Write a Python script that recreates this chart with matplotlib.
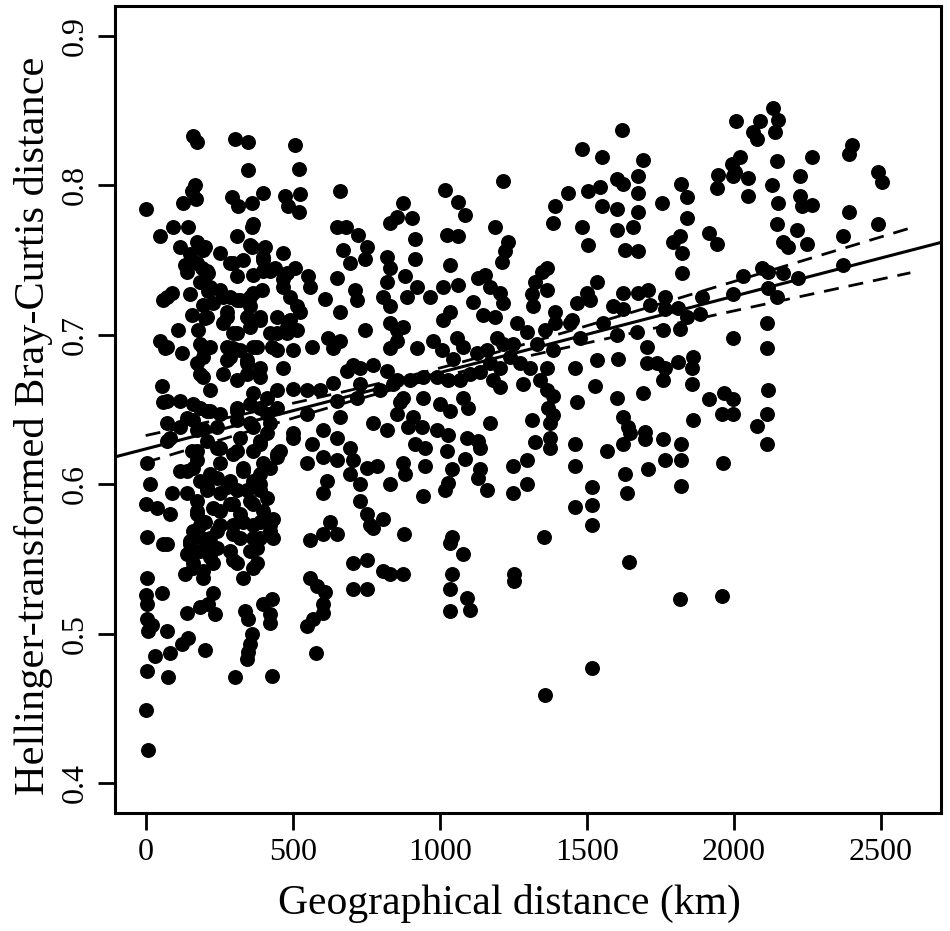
import numpy as np
import matplotlib
matplotlib.use("Agg")
from matplotlib import pyplot as plt

plt.rcParams["font.family"] = ["Liberation Serif", "DejaVu Serif"]

# geographical distance (km) and Hellinger-transformed Bray-Curtis distance
geo_km = [
    161, 175, 304, 348, 508, 348, 521, 168, 157, 171, 127, 1, 293, 314, 361, 399, 474, 525, 484, 521,
    661, 365, 361, 310, 93, 144, 49, 117, 174, 202, 151, 134, 140, 191, 212, 191, 253, 287, 331, 310,
    361, 406, 399, 365, 399, 467, 440, 467, 508, 552, 559, 651, 681, 722, 671, 752, 746, 695, 651, 831,
    855, 821, 831, 821, 807, 831, 59, 89, 151, 212, 195, 253, 287, 321, 365, 396, 355, 491, 514, 525,
    610, 661, 712, 718, 157, 202, 110, 178, 276, 263, 310, 344, 389, 446, 480, 514, 446, 620, 661, 746,
    49, 66, 123, 195, 219, 297, 365, 430, 566, 637, 831, 855,
    # lower left block
    55, 59, 117, 72, 140, 83, 174, 4, 15, 0, 38, 89, 83, 4, 59, 4, 174, 195, 219, 185,
    219, 209, 157, 174, 140, 185, 140, 174, 209, 174, 202, 161, 191, 151, 185, 161, 195, 219, 243, 243,
    253, 253, 243, 253, 243, 287, 344, 310, 389, 365, 310, 389, 355, 321, 389, 297, 365, 331, 399, 287,
    365, 310, 389, 287, 355, 321, 399, 297, 365, 321, 389, 287, 355, 310, 378, 331, 423, 433, 446, 457,
    412, 446, 412, 501, 549, 593, 637, 651, 661, 549, 501, 566, 603, 651, 695, 549, 603, 651, 705, 729,
    617, 603, 695, 752, 786, 729, 752, 763, 807, 773, 559, 603, 651, 627, 705, 752, 807, 773, 821, 831,
    865, 705, 729, 773, 729, 718, 685, 821, 855, 797,
    0, 4, 55, 4, 21, 8, 72, 32, 83, 4, 76, 1, 8, 134, 229, 212, 185, 140, 236, 144,
    123, 202, 338, 348, 399, 430, 423, 423, 361, 355, 348, 344, 304, 430, 559, 583, 610, 603, 603, 569,
    549, 580, 705, 752,
    # dense column, 100-500 km
    195, 174, 209, 185, 219, 355, 297, 399, 423, 480, 467, 355, 310, 263, 229, 209, 276, 297, 355, 389,
    491, 423, 480, 501, 446, 378, 321, 276, 185, 72, 195, 276, 344, 389, 467, 185, 263, 344, 72,
    72, 161, 209, 253, 310, 355, 412, 446, 117, 161, 195, 243, 310, 365, 423, 72, 174, 253, 310, 389,
    446, 501, 117, 161, 219, 331, 389, 423, 209, 276, 344, 389, 174, 229, 297, 365, 412, 185, 253, 331,
    389, 423, 151, 219, 297, 365, 433, 72, 140, 209, 378, 161, 229, 297, 365, 195,
    # middle block
    1484, 1552, 1692, 1216, 1018, 1062, 1086, 876, 906, 1436, 1504, 1545, 1603, 1623, 1675, 1675, 1757, 1392, 1552, 1603,
    1675, 1385, 1484, 1603, 1658, 1504, 1630, 1675, 916, 1025, 1062, 1188, 1232, 1222, 1212, 916, 1035, 882, 1365, 1348,
    1154, 1130, 1171, 1205, 1216, 1324, 1365, 1314, 1317, 1535, 1501, 1467, 1511, 1623, 1675, 1709, 1767, 1590, 1623, 1716,
    1760, 1011, 1062, 967, 923, 889, 1113, 1035, 1011, 1147, 1188, 1263, 1297, 1392, 1392, 1450, 1477, 1443, 1555, 1603,
    1671, 1705, 1739, 1760, 1705, 1607, 1535, 1460, 1528, 1603, 1692, 1467, 1365, 1385, 1331, 1358, 831, 876, 855, 923,
    977, 1008, 1059, 1079, 1045, 1127, 1161, 1195, 1216, 1250, 1171, 1205, 1239, 1273, 1307, 1341, 1365, 1385, 1283, 1205,
    1181, 1137, 1103, 1069, 1028, 991, 943, 899, 841, 876, 943, 1001, 1079, 1620,
    855, 910, 1035, 1097, 893, 940, 991, 1028, 916, 950, 1025, 1093, 1130, 1086, 1137, 1171, 876, 882, 950, 1042,
    1137, 1130, 1028, 1018, 943, 1161, 1250, 1297, 1250, 1297, 1314, 1324, 1375, 1375, 1375, 1385, 1368, 1460, 1460, 1569,
    1623, 1647, 1640, 1623, 1699, 1699, 1760, 1767, 1709, 1630, 1637, 1518, 1518, 1460, 1518, 1355, 1644, 1518, 1358, 879,
    876, 831, 1042, 1035, 1079, 1042, 1035, 1093, 1103, 1035, 1253, 1253,
    # right block
    2134, 2151, 2141, 2090, 2066, 2080, 2008, 2022, 1994, 2004, 1947, 1943, 1998, 2049, 2049, 2147, 2130, 2151, 2267, 2226,
    2226, 2233, 2267, 2403, 2392, 2491, 2505, 2392, 2491, 2372, 2372, 2147, 2215, 2249, 2168, 2185, 2219, 2168, 2097, 2117,
    2117, 2147, 2032, 1998, 1892, 1885, 2113, 2113, 1998, 1821, 1841, 1841, 1817, 1794, 1824, 1824, 1916, 1943, 1811, 1841,
    1767, 1817, 1862, 1811,
    1767, 1858, 1858, 1916, 1967, 1998, 1960, 1998, 1862, 2117, 2113, 2080, 2113, 1821, 1821, 1964, 1821, 1817, 1960,
]

bray = [
    0.833, 0.829, 0.831, 0.829, 0.827, 0.810, 0.811, 0.800, 0.796, 0.791, 0.788, 0.784, 0.792, 0.786, 0.788, 0.795, 0.793, 0.794, 0.786, 0.782,
    0.796, 0.774, 0.772, 0.766, 0.772, 0.772, 0.766, 0.759, 0.762, 0.759, 0.754, 0.747, 0.742, 0.745, 0.741, 0.735, 0.755, 0.748, 0.750, 0.739,
    0.759, 0.759, 0.752, 0.740, 0.743, 0.755, 0.745, 0.737, 0.745, 0.739, 0.732, 0.772, 0.772, 0.767, 0.757, 0.759, 0.751, 0.748, 0.738, 0.775,
    0.779, 0.752, 0.745, 0.735, 0.725, 0.719, 0.723, 0.728, 0.727, 0.729, 0.720, 0.730, 0.725, 0.723, 0.728, 0.730, 0.719, 0.725, 0.719, 0.715,
    0.724, 0.715, 0.730, 0.723, 0.713, 0.711, 0.703, 0.703, 0.715, 0.708, 0.701, 0.712, 0.710, 0.712, 0.705, 0.703, 0.701, 0.698, 0.696, 0.703,
    0.696, 0.691, 0.688, 0.691, 0.692, 0.691, 0.692, 0.692, 0.692, 0.691, 0.691, 0.703,
    0.666, 0.655, 0.656, 0.641, 0.644, 0.631, 0.636, 0.614, 0.600, 0.587, 0.584, 0.594, 0.580, 0.565, 0.560, 0.537, 0.681, 0.672, 0.663, 0.651,
    0.649, 0.629, 0.622, 0.616, 0.609, 0.602, 0.594, 0.589, 0.596, 0.580, 0.575, 0.569, 0.564, 0.560, 0.555, 0.547, 0.542, 0.551, 0.557, 0.569,
    0.582, 0.594, 0.604, 0.614, 0.624, 0.685, 0.681, 0.670, 0.672, 0.661, 0.649, 0.651, 0.641, 0.631, 0.629, 0.620, 0.622, 0.611, 0.614, 0.602,
    0.602, 0.596, 0.596, 0.587, 0.589, 0.580, 0.582, 0.573, 0.573, 0.564, 0.564, 0.555, 0.555, 0.547, 0.547, 0.537, 0.569, 0.577, 0.618, 0.622,
    0.634, 0.663, 0.658, 0.664, 0.663, 0.663, 0.668, 0.656, 0.645, 0.647, 0.631, 0.627, 0.636, 0.631, 0.624, 0.614, 0.618, 0.616, 0.616, 0.600,
    0.602, 0.594, 0.607, 0.611, 0.612, 0.589, 0.580, 0.573, 0.577, 0.571, 0.563, 0.567, 0.567, 0.575, 0.547, 0.549, 0.542, 0.641, 0.636, 0.600,
    0.655, 0.680, 0.678, 0.680, 0.667, 0.658, 0.676, 0.676, 0.670, 0.663,
    0.526, 0.520, 0.527, 0.510, 0.506, 0.502, 0.502, 0.485, 0.487, 0.475, 0.471, 0.449, 0.422, 0.540, 0.527, 0.520, 0.518, 0.514, 0.513, 0.497,
    0.493, 0.489, 0.515, 0.510, 0.520, 0.523, 0.513, 0.507, 0.500, 0.493, 0.488, 0.483, 0.471, 0.472, 0.537, 0.532, 0.528, 0.520, 0.514, 0.510,
    0.505, 0.487, 0.530, 0.530,
    0.757, 0.748, 0.743, 0.735, 0.732, 0.760, 0.748, 0.750, 0.743, 0.741, 0.732, 0.725, 0.723, 0.725, 0.721, 0.712, 0.712, 0.701, 0.705, 0.712,
    0.710, 0.701, 0.701, 0.690, 0.690, 0.692, 0.690, 0.692, 0.694, 0.692, 0.685, 0.683, 0.683, 0.678, 0.678, 0.674, 0.674, 0.674, 0.725,
    0.656, 0.654, 0.649, 0.647, 0.651, 0.654, 0.647, 0.651, 0.638, 0.643, 0.637, 0.638, 0.643, 0.638, 0.641, 0.629, 0.622, 0.624, 0.622, 0.627,
    0.620, 0.634, 0.609, 0.611, 0.607, 0.609, 0.607, 0.611, 0.598, 0.598, 0.596, 0.600, 0.582, 0.584, 0.587, 0.587, 0.591, 0.573, 0.573, 0.575,
    0.575, 0.573, 0.562, 0.564, 0.567, 0.564, 0.564, 0.560, 0.553, 0.555, 0.557, 0.544, 0.547, 0.549, 0.544, 0.537,
    0.824, 0.819, 0.817, 0.803, 0.797, 0.789, 0.780, 0.788, 0.778, 0.795, 0.796, 0.799, 0.804, 0.801, 0.806, 0.795, 0.788, 0.786, 0.786, 0.784,
    0.782, 0.775, 0.772, 0.770, 0.772, 0.760, 0.757, 0.756, 0.764, 0.767, 0.766, 0.772, 0.762, 0.756, 0.749, 0.751, 0.747, 0.739, 0.745, 0.742,
    0.740, 0.738, 0.732, 0.728, 0.721, 0.735, 0.730, 0.727, 0.719, 0.735, 0.728, 0.721, 0.723, 0.728, 0.728, 0.730, 0.725, 0.719, 0.717, 0.720,
    0.703, 0.732, 0.733, 0.725, 0.732, 0.725, 0.722, 0.715, 0.710, 0.713, 0.712, 0.708, 0.702, 0.715, 0.708, 0.710, 0.698, 0.708, 0.708, 0.700,
    0.702, 0.692, 0.681, 0.670, 0.681, 0.684, 0.683, 0.678, 0.666, 0.658, 0.661, 0.655, 0.678, 0.690, 0.694, 0.703, 0.708, 0.705, 0.696, 0.691,
    0.696, 0.690, 0.698, 0.692, 0.684, 0.688, 0.690, 0.698, 0.694, 0.694, 0.681, 0.678, 0.685, 0.681, 0.678, 0.670, 0.663, 0.659, 0.667, 0.665,
    0.670, 0.675, 0.674, 0.670, 0.670, 0.672, 0.672, 0.670, 0.667, 0.658, 0.658, 0.654, 0.658, 0.837,
    0.647, 0.645, 0.649, 0.651, 0.638, 0.638, 0.636, 0.633, 0.627, 0.624, 0.622, 0.631, 0.629, 0.617, 0.624, 0.641, 0.614, 0.607, 0.612, 0.610,
    0.610, 0.604, 0.601, 0.596, 0.592, 0.596, 0.612, 0.616, 0.594, 0.600, 0.643, 0.628, 0.624, 0.631, 0.641, 0.646, 0.651, 0.627, 0.612, 0.622,
    0.627, 0.634, 0.638, 0.645, 0.635, 0.630, 0.630, 0.616, 0.610, 0.607, 0.594, 0.598, 0.586, 0.585, 0.573, 0.565, 0.548, 0.477, 0.459, 0.567,
    0.540, 0.540, 0.565, 0.561, 0.553, 0.540, 0.530, 0.524, 0.516, 0.515, 0.540, 0.535,
    0.852, 0.844, 0.836, 0.843, 0.836, 0.831, 0.843, 0.819, 0.814, 0.809, 0.807, 0.798, 0.806, 0.805, 0.793, 0.816, 0.800, 0.788, 0.819, 0.806,
    0.793, 0.786, 0.787, 0.827, 0.821, 0.809, 0.802, 0.782, 0.774, 0.766, 0.747, 0.774, 0.770, 0.761, 0.762, 0.759, 0.738, 0.741, 0.745, 0.742,
    0.731, 0.725, 0.739, 0.727, 0.725, 0.714, 0.708, 0.691, 0.698, 0.801, 0.792, 0.778, 0.766, 0.762, 0.755, 0.741, 0.768, 0.761, 0.718, 0.712,
    0.717, 0.704, 0.685, 0.682,
    0.678, 0.678, 0.667, 0.657, 0.661, 0.657, 0.647, 0.647, 0.643, 0.663, 0.647, 0.639, 0.627, 0.627, 0.616, 0.614, 0.599, 0.523, 0.525,
]

# linear fit and its confidence band
fit_intercept = 0.6236
fit_slope = 5.11e-5
band_se0 = 0.003
band_se1 = 8.9e-6
band_xmean = 950
band_range = [0, 2600]

fig = plt.figure(figsize=(9.5, 9.31), dpi=100)
ax = fig.add_axes([0.1211, 0.1267, 0.8694, 0.8669])

ax.scatter(geo_km, bray, s=116, c="black", linewidths=0, zorder=2)

xl = np.array([-200, 2800])
ax.plot(xl, fit_intercept + fit_slope * xl, color="black", lw=2.2, zorder=3)

xb = np.linspace(band_range[0], band_range[1], 200)
yb = fit_intercept + fit_slope * xb
hw = np.sqrt(band_se0 ** 2 + (band_se1 * (xb - band_xmean)) ** 2)
ax.plot(xb, yb + hw, color="black", lw=2.0, ls=(0, (5.4, 3.6)), zorder=3)
ax.plot(xb, yb - hw, color="black", lw=2.0, ls=(0, (5.4, 3.6)), zorder=3)

ax.set_xlim(-104, 2704)
ax.set_ylim(0.38, 0.92)
ax.set_xticks([0, 500, 1000, 1500, 2000, 2500])
ax.set_yticks([0.4, 0.5, 0.6, 0.7, 0.8, 0.9])
ax.set_yticklabels(["0.4", "0.5", "0.6", "0.7", "0.8", "0.9"], rotation=90, va="center")
ax.tick_params(direction="out", length=12, width=2.0, labelsize=23, pad=6)
for sp in ax.spines.values():
    sp.set_linewidth(2.2)

ax.set_xlabel("Geographical distance (km)", fontsize=30, labelpad=12)
ax.set_ylabel("Hellinger-transformed Bray-Curtis distance", fontsize=30.5, labelpad=6)
ax.xaxis.label.set_x(0.478)
ax.yaxis.label.set_y(0.48)

fig.savefig("out.png", dpi=100)
